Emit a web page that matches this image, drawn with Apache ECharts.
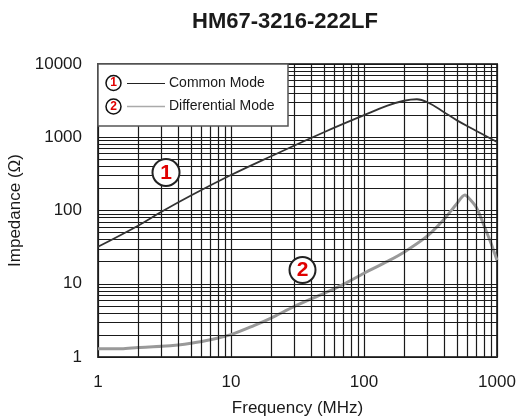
<!DOCTYPE html>
<html>
<head>
<meta charset="utf-8">
<style>
html,body{margin:0;padding:0;background:#fff;}
#chart{width:516px;height:418px;}
</style>
<script src="https://cdn.jsdelivr.net/npm/echarts@6/dist/echarts.min.js"></script>
</head>
<body>
<div id="chart"></div>
<script>
// ---- data ----
var chartTitle = 'HM67-3216-222LF';
var xAxisName = 'Frequency (MHz)';
var yAxisName = 'Impedance (\u03A9)';
var seriesNames = ['Common Mode', 'Differential Mode'];

// Common Mode: [frequency MHz, impedance Ohm]
var commonFreq = [1, 2, 3, 5, 10, 20, 50, 100, 150, 200, 250, 300, 400, 500, 700, 1000];
var commonImp  = [32, 62, 96, 160, 305, 550, 1170, 2000, 2700, 3150, 3300, 3000, 2200, 1700, 1220, 860];

// Differential Mode
var diffFreq = [1, 1.5, 2, 3, 4, 5, 7, 10, 15, 20, 30, 50, 70, 100, 150, 200, 300, 400, 500, 574, 620, 700, 800, 900, 1000];
var diffImp  = [1.3, 1.3, 1.35, 1.4, 1.46, 1.54, 1.72, 2.02, 2.7, 3.4, 4.9, 7.4, 9.8, 13.9, 20.2, 27, 45, 76, 125, 163, 145, 110, 62, 36, 21];

// minor grid values (log decades 2..9)
var xMinorGrid = [2,3,4,5,6,7,8,9, 20,30,40,50,60,70,80,90, 200,300,400,500,600,700,800,900];
var yMinorGrid = [2,3,4,5,6,7,8,9, 20,30,40,50,60,70,80,90, 200,300,400,500,600,700,800,900,
                  2000,3000,4000,5000,6000,7000,8000,9000];

function pairs(xs, ys){ var o=[]; for(var i=0;i<xs.length;i++) o.push([xs[i], ys[i]]); return o; }
function plain(v){ return String(Math.round(v)); }

var FONT = '"Liberation Sans", Arial, Helvetica, sans-serif';
var chart = echarts.init(document.getElementById('chart'), null, {renderer:'canvas'});

var gridStyle = {color:'#1a1a1a', width:1.2, type:'solid'};

var option = {
  backgroundColor:'#fff',
  animation:false,
  title:{
    text: chartTitle, left: 192, top: 11, padding: 0,
    textStyle:{fontFamily:FONT, fontSize:22, fontWeight:'bold', color:'#1a1a1a'}
  },
  grid:{left:98, top:64, right:19, bottom:61, containLabel:false, outerBoundsMode:'none',
        show:true, borderColor:'#444', borderWidth:2, backgroundColor:'#fff', z:0},
  xAxis:{
    type:'log', logBase:10, min:1, max:1000,
    name:xAxisName, nameLocation:'middle', nameGap:43,
    nameTextStyle:{fontFamily:FONT, fontSize:17, color:'#1a1a1a'},
    axisLine:{show:false}, axisTick:{show:false},
    axisLabel:{fontFamily:FONT, fontSize:17, color:'#1a1a1a', margin:17, formatter:plain},
    splitLine:{show:true, lineStyle:gridStyle}
  },
  yAxis:{
    type:'log', logBase:10, min:1, max:10000,
    name:yAxisName, nameLocation:'middle', nameGap:64,
    nameTextStyle:{fontFamily:FONT, fontSize:17, color:'#1a1a1a'},
    axisLine:{show:false}, axisTick:{show:false},
    axisLabel:{fontFamily:FONT, fontSize:17, color:'#1a1a1a', margin:16, formatter:plain},
    splitLine:{show:true, lineStyle:gridStyle}
  },
  series:[
    {
      type:'line', name:'grid', data:[], silent:true, z:1,
      markLine:{
        silent:true, symbol:['none','none'], animation:false,
        label:{show:false},
        lineStyle:gridStyle,
        emphasis:{disabled:true},
        data: xMinorGrid.map(function(v){return {xAxis:v};}).concat(
              yMinorGrid.map(function(v){return {yAxis:v};}))
      }
    },
    {
      type:'line', name:seriesNames[0], data:pairs(commonFreq, commonImp),
      smooth:0.4, showSymbol:false, z:5,
      lineStyle:{color:'#333', width:1.8}
    },
    {
      type:'line', name:seriesNames[1], data:pairs(diffFreq, diffImp),
      smooth:0.3, showSymbol:false, z:4,
      lineStyle:{color:'#999', width:3}
    }
  ],
  graphic:[
    // legend box
    {type:'rect', z:100, shape:{x:98, y:64, width:190, height:62}, style:{fill:'#fff', stroke:'#555', lineWidth:1.5}},
    {type:'circle', z:101, shape:{cx:113.5, cy:83, r:7.5}, style:{fill:'#fff', stroke:'#111', lineWidth:1.5}},
    {type:'text', z:102, x:113.5, y:83, style:{text:'1', fill:'#e00000', font:'bold 12px '+FONT, textAlign:'center', textVerticalAlign:'middle'}},
    {type:'line', z:101, shape:{x1:127, y1:83.5, x2:165, y2:83.5}, style:{stroke:'#222', lineWidth:1}},
    {type:'text', z:102, x:169, y:83, style:{text:seriesNames[0], fill:'#1a1a1a', font:'14px '+FONT, textVerticalAlign:'middle'}},
    {type:'circle', z:101, shape:{cx:113.5, cy:106.5, r:7.5}, style:{fill:'#fff', stroke:'#111', lineWidth:1.5}},
    {type:'text', z:102, x:113.5, y:106.5, style:{text:'2', fill:'#e00000', font:'bold 12px '+FONT, textAlign:'center', textVerticalAlign:'middle'}},
    {type:'line', z:101, shape:{x1:127, y1:106.5, x2:165, y2:106.5}, style:{stroke:'#aaa', lineWidth:1.5}},
    {type:'text', z:102, x:169, y:106.5, style:{text:seriesNames[1], fill:'#1a1a1a', font:'14px '+FONT, textVerticalAlign:'middle'}},
    // curve annotations
    {type:'circle', z:101, shape:{cx:166, cy:172.5, r:13.5}, style:{fill:'#fff', stroke:'#222', lineWidth:2}},
    {type:'text', z:102, x:166, y:173, style:{text:'1', fill:'#e00000', font:'bold 21px '+FONT, textAlign:'center', textVerticalAlign:'middle'}},
    {type:'circle', z:101, shape:{cx:302.5, cy:270, r:13}, style:{fill:'#fff', stroke:'#222', lineWidth:2}},
    {type:'text', z:102, x:302.5, y:270.5, style:{text:'2', fill:'#e00000', font:'bold 21px '+FONT, textAlign:'center', textVerticalAlign:'middle'}}
  ]
};
chart.setOption(option);
</script>
</body>
</html>
